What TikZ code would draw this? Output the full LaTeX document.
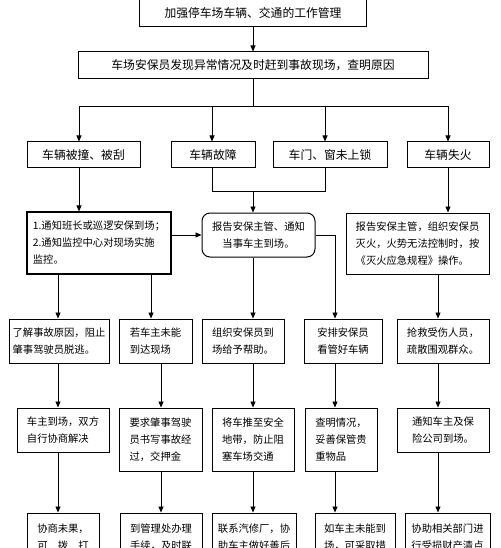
\documentclass[tikz,border=0pt]{standalone}
\usepackage{fontspec}
\setmainfont{Noto Sans CJK SC}
\usetikzlibrary{arrows.meta}

\begin{document}
\begin{tikzpicture}[x=1pt, y=-1pt, >={Triangle[length=6pt,width=5pt]}, line width=0.8pt,
	   box/.style={draw, line width=1pt, inner sep=2pt, align=left, font=\fontsize{10.3}{17}\selectfont},
	   head/.style={box, align=center, minimum height=26pt, font=\fontsize{11.8}{14}\selectfont}]
	  \useasboundingbox (0,0) rectangle (500,548);
	  \clip (0,0) rectangle (500,548);
	  \node[head, minimum width=227pt, minimum height=27pt] (mgmt) at (253,13.5) {加强停车场车辆、交通的工作管理};
	  \node[head, minimum width=350pt, minimum height=27pt] (find) at (253,65.5) {车场安保员发现异常情况及时赶到事故现场，查明原因};
	  \node[head, minimum width=113pt] (hit) at (83.5,155) {车辆被撞、被刮};
	  \node[head, minimum width=84pt] (fault) at (213,155) {车辆故障};
	  \node[head, minimum width=114pt] (lock) at (330,155) {车门、窗未上锁};
	  \node[head, minimum width=82pt] (fire) at (448,155) {车辆失火};
	  \node[box, line width=1.2pt, minimum width=144pt, minimum height=62pt] (notify) at (99,243) {1.通知班长或巡逻安保到场；\\2.通知监控中心对现场实施\\监控。};
	  \node[box, align=center, rounded corners=8pt, minimum width=113pt, minimum height=44pt] (report) at (258.5,235) {报告安保主管、通知\\当事车主到场。};
	  \node[box, minimum width=143pt, minimum height=61pt] (firerep) at (417.5,243.5) {报告安保主管，组织安保员\\灭火，火势无法控制时，按\\《灭火应急规程》操作。};
	  \node[box, minimum width=100pt, minimum height=44pt] (cause) at (59,341) {了解事故原因，阻止\\肇事驾驶员脱逃。};
	  \node[box, minimum width=73pt, minimum height=44pt] (absent) at (155.5,341) {若车主未能\\到达现场};
	  \node[box, minimum width=82pt, minimum height=44pt] (help) at (243,341) {组织安保员到\\场给予帮助。};
	  \node[box, align=center, minimum width=78pt, minimum height=44pt] (guard) at (343,341) {安排安保员\\看管好车辆};
	  \node[box, minimum width=92pt, minimum height=44pt] (rescue) at (443,341) {抢救受伤人员，\\疏散围观群众。};
	  \node[box, minimum width=92pt, minimum height=44pt] (agree) at (63,430) {车主到场，双方\\自行协商解决};
	  \node[box, minimum width=83pt, minimum height=63pt] (write) at (160.5,439.5) {要求肇事驾驶\\员书写事故经\\过，交押金};
	  \node[box, minimum width=82pt, minimum height=63pt] (push) at (253,439.5) {将车推至安全\\地带，防止阻\\塞车场交通};
	  \node[box, minimum width=72pt, minimum height=63pt] (check) at (341,439.5) {查明情况，\\妥善保管贵\\重物品};
	  \node[box, minimum width=92pt, minimum height=44pt] (insure) at (443,430) {通知车主及保\\险公司到场。};
	  \node[box, minimum width=72pt, minimum height=48pt] (fail) at (63,537) {协商未果，\\可\quad 拨\quad 打};
	  \node[box, minimum width=82pt, minimum height=48pt] (office) at (161,537) {到管理处办理\\手续，及时联};
	  \node[box, minimum width=84pt, minimum height=48pt] (repair) at (254,537) {联系汽修厂，协\\助车主做好善后};
	  \node[box, minimum width=80pt, minimum height=48pt] (measure) at (355,537) {如车主未能到\\场，可采取措};
	  \node[box, minimum width=85pt, minimum height=48pt] (assist) at (447.5,537) {协助相关部门进\\行受损财产清点};
	  \path (79,106) coordinate (b1) (212,106) coordinate (b2) (325,106) coordinate (b3) (448,106) coordinate (b4)
	        (253,191) coordinate (j);
	  \path (58,0) coordinate (k1) (151,0) coordinate (k2) (161,0) coordinate (k3)
	        (253,0) coordinate (k4) (335,0) coordinate (k5) (438,0) coordinate (k6);
	  \draw[->] (mgmt) -- (find);
	  \draw (find.south) -- (find.south |- b1); \draw (b1) -- (b4);
	  \draw[->] (b1) -- (hit.north -| b1); \draw[->] (b2) -- (fault.north -| b2);
	  \draw[->] (b3) -- (lock.north -| b3); \draw[->] (b4) -- (fire.north -| b4);
	  \draw[->] (hit.south -| b1) -- (notify.north -| b1);
	  \draw (fault.south -| b2) -- (b2 |- j) -- (b3 |- j) -- (lock.south -| b3);
	  \draw[->] (j) -- (report.north -| j);
	  \draw[->] (notify.east |- report.west) -- (report.west);
	  \draw[->] (fire.south -| b4) -- (firerep.north -| b4);
	  \draw[->] (notify.south -| k1) -- (cause.north -| k1); \draw[->] (notify.south -| k2) -- (absent.north -| k2);
	  \draw[->] (report.south -| k4) -- (help.north -| k4); \draw[->] (report.east) -| (guard.north -| k5);
	  \draw[->] (firerep.south -| k6) -- (rescue.north -| k6);
	  \draw[->] (cause.south -| k1) -- (agree.north -| k1); \draw[->] (absent.south -| k3) -- (write.north -| k3);
	  \draw[->] (help.south -| k4) -- (push.north -| k4); \draw[->] (guard.south -| k5) -- (check.north -| k5);
	  \draw[->] (rescue.south -| k6) -- (insure.north -| k6);
	  \draw[->] (agree.south -| k1) -- (fail.north -| k1); \draw[->] (write.south -| k3) -- (office.north -| k3);
	  \draw[->] (push.south -| k4) -- (repair.north -| k4); \draw[->] (check.south -| k5) -- (measure.north -| k5);
	  \draw[->] (insure.south -| k6) -- (assist.north -| k6);
	\end{tikzpicture}
\end{document}
